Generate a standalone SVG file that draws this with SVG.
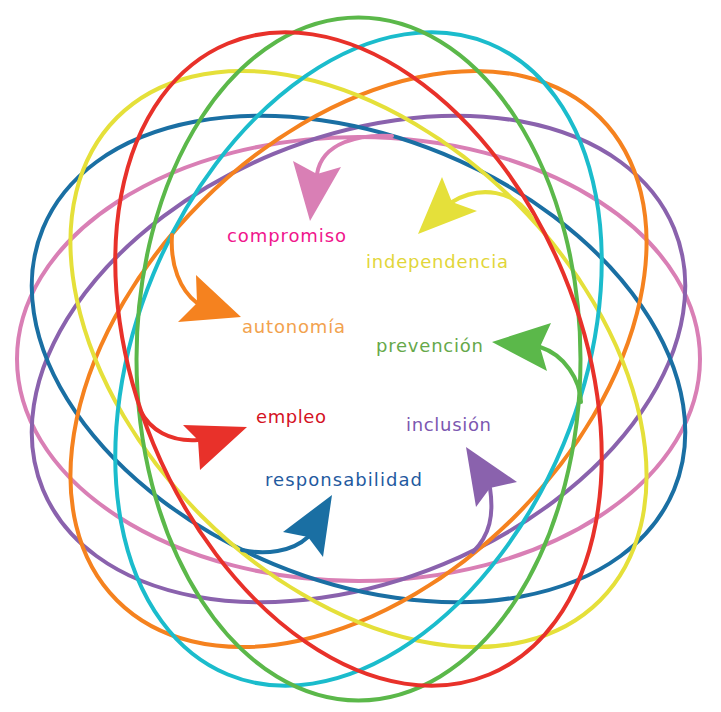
<svg xmlns="http://www.w3.org/2000/svg" width="721" height="712" viewBox="0 0 721 712">
<style>
.ring{fill:none;stroke-width:4}
.cv{fill:none;stroke-width:4;stroke-linecap:round}
.lbl{font-family:"DejaVu Sans","Liberation Sans",sans-serif;font-size:18px}
</style>
<rect width="721" height="712" fill="#ffffff"/>
<g id="rings">
<ellipse class="ring" stroke="#d97fb5" cx="358.5" cy="359" rx="341.5" ry="222"/>
<ellipse class="ring" stroke="#8a62ad" cx="358.5" cy="359" rx="341.5" ry="222" transform="rotate(157.5 358.5 359)"/>
<ellipse class="ring" stroke="#1a6fa3" cx="358.5" cy="359" rx="341.5" ry="222" transform="rotate(22.5 358.5 359)"/>
<ellipse class="ring" stroke="#f5821f" cx="358.5" cy="359" rx="341.5" ry="222" transform="rotate(135 358.5 359)"/>
<ellipse class="ring" stroke="#e5e03a" cx="358.5" cy="359" rx="341.5" ry="222" transform="rotate(45 358.5 359)"/>
<ellipse class="ring" stroke="#1bbccc" cx="358.5" cy="359" rx="341.5" ry="222" transform="rotate(112.5 358.5 359)"/>
<ellipse class="ring" stroke="#5bb84a" cx="358.5" cy="359" rx="341.5" ry="222" transform="rotate(90 358.5 359)"/>
<ellipse class="ring" stroke="#e8312a" cx="358.5" cy="359" rx="341.5" ry="222" transform="rotate(67.5 358.5 359)"/>
</g>
<g id="connectors">
<path class="cv" stroke="#d97fb5" d="M392,136 C360,134 322,142 317,174"/>
<polygon fill="#d97fb5" points="293,161 310,221 341,167 317,174"/>
<path class="cv" stroke="#e5e03a" d="M532,218 C515,190 480,185 452,202"/>
<polygon fill="#e5e03a" points="442,177 418,234 477,211 452,202"/>
<path class="cv" stroke="#f5821f" d="M172,235 C170,265 180,290 197,303"/>
<polygon fill="#f5821f" points="196,275 241,317 178,322 197,303"/>
<path class="cv" stroke="#5bb84a" d="M581,402 C580,380 565,355 540,347"/>
<polygon fill="#5bb84a" points="551,323 492,342 547,371 540,347"/>
<path class="cv" stroke="#e8312a" d="M140,410 C150,430 170,442 198,440"/>
<polygon fill="#e8312a" points="183,425 247,427 200,470 198,440"/>
<path class="cv" stroke="#8a62ad" d="M473,552 C490,535 494,515 490,488"/>
<polygon fill="#8a62ad" points="517,482 466,447 476,507 490,488"/>
<path class="cv" stroke="#1a6fa3" d="M242,550 C265,555 292,552 308,537"/>
<polygon fill="#1a6fa3" points="283,532 332,495 323,557 308,537"/>
</g>
<g id="compromiso"><text class="lbl" x="227" y="242" fill="#f0168c" textLength="119">compromiso</text></g>
<g id="independencia"><text class="lbl" x="366" y="268" fill="#e2d63a" textLength="142">independencia</text></g>
<g id="autonomia"><text class="lbl" x="242" y="333" fill="#f2a24e" textLength="103">autonomía</text></g>
<g id="prevencion"><text class="lbl" x="376" y="352" fill="#66a84a" textLength="107">prevención</text></g>
<g id="empleo"><text class="lbl" x="256" y="423" fill="#d4121f" textLength="70">empleo</text></g>
<g id="inclusion"><text class="lbl" x="406" y="431" fill="#7c58b0" textLength="85">inclusión</text></g>
<g id="responsabilidad"><text class="lbl" x="265" y="486" fill="#1f5aa0" textLength="157">responsabilidad</text></g>
</svg>
